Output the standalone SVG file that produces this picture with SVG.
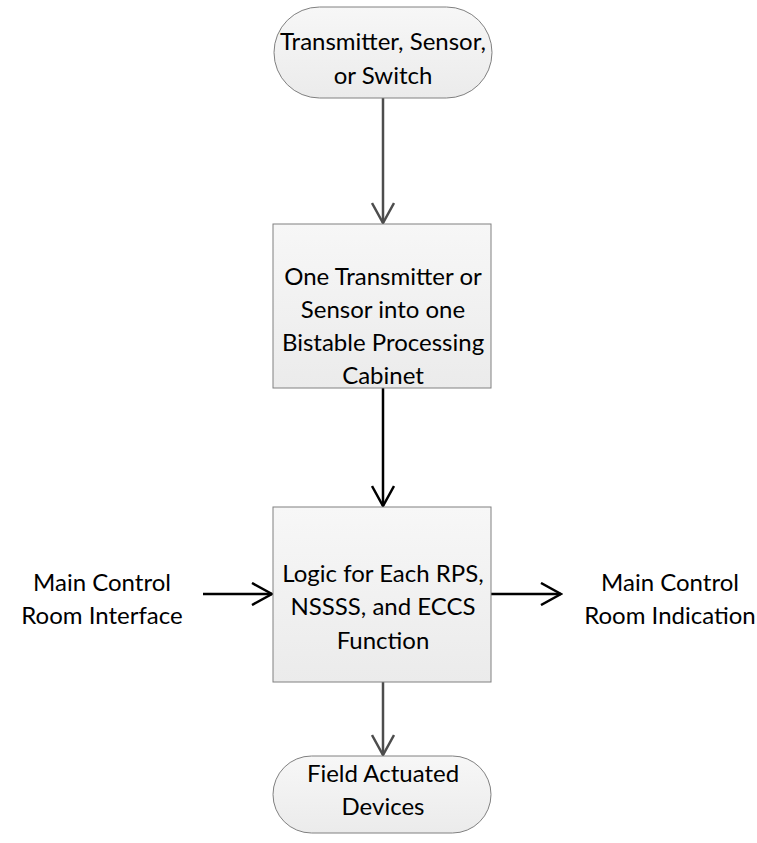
<svg xmlns="http://www.w3.org/2000/svg" width="757" height="843" viewBox="0 0 757 843">
<defs>
<linearGradient id="g" x1="0" y1="0" x2="0" y2="1">
<stop offset="0" stop-color="#f7f7f7"/>
<stop offset="1" stop-color="#ebebeb"/>
</linearGradient>
<marker id="ahg" viewBox="0 0 24 24" refX="22" refY="12" markerWidth="24" markerHeight="24" markerUnits="userSpaceOnUse" orient="auto">
<path d="M2,1 L22,12 L2,23" fill="none" stroke="#4d4d4d" stroke-width="2.5"/>
</marker>
<marker id="ahb" viewBox="0 0 24 24" refX="22" refY="12" markerWidth="24" markerHeight="24" markerUnits="userSpaceOnUse" orient="auto">
<path d="M2,1 L22,12 L2,23" fill="none" stroke="#000" stroke-width="2.5"/>
</marker>
</defs>
<style>
.shape{fill:url(#g);stroke:#808080;stroke-width:1}
text{font-family:Lato,"Liberation Sans",sans-serif;font-size:24px;fill:#000;text-anchor:middle}
.cg{fill:none;stroke:#4d4d4d;stroke-width:2.5}
.cb{fill:none;stroke:#000;stroke-width:2.5}
</style>
<g id="connectors">
<line class="cg" x1="383" y1="98" x2="383" y2="223" marker-end="url(#ahg)"/>
<line class="cb" x1="383" y1="388" x2="383" y2="506" marker-end="url(#ahb)"/>
<line class="cg" x1="383" y1="682" x2="383" y2="755" marker-end="url(#ahg)"/>
<line class="cb" x1="203" y1="594" x2="272" y2="594" marker-end="url(#ahb)"/>
<line class="cb" x1="491" y1="594" x2="561" y2="594" marker-end="url(#ahb)"/>
</g>
<g id="n1">
<rect class="shape" x="274" y="7" width="218" height="91" rx="45.5" ry="45.5"/>
<text x="383" y="50">Transmitter, Sensor,</text>
<text x="383" y="84">or Switch</text>
</g>
<g id="n2">
<rect class="shape" x="273" y="224" width="218" height="164"/>
<text x="383" y="285">One Transmitter or</text>
<text x="383" y="318">Sensor into one</text>
<text x="383" y="351">Bistable Processing</text>
<text x="383" y="384">Cabinet</text>
</g>
<g id="n3">
<rect class="shape" x="273" y="507" width="218" height="175"/>
<text x="383" y="582">Logic for Each RPS,</text>
<text x="383" y="615">NSSSS, and ECCS</text>
<text x="383" y="649">Function</text>
</g>
<g id="n4">
<rect class="shape" x="273" y="756" width="218" height="77" rx="38.5" ry="38.5"/>
<text x="383" y="782">Field Actuated</text>
<text x="383" y="815">Devices</text>
</g>
<g id="n5">
<text x="102" y="591">Main Control</text>
<text x="102" y="624">Room Interface</text>
</g>
<g id="n6">
<text x="670" y="591">Main Control</text>
<text x="670" y="624">Room Indication</text>
</g>
</svg>
